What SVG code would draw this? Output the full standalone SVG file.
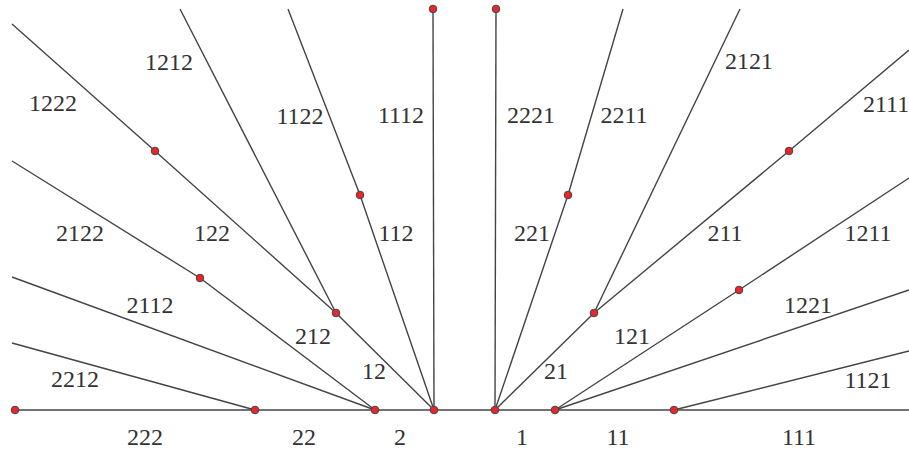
<svg xmlns="http://www.w3.org/2000/svg" width="909" height="453" viewBox="0 0 909 453">
<style>
.e{fill:none;stroke:#444;stroke-width:1.4;stroke-linejoin:round}
.n{fill:#e8262c;stroke:#444;stroke-width:1}
.t{font-family:'Liberation Serif','Times New Roman',Times,serif;font-size:24px;fill:#333;text-anchor:middle}
</style>
<rect width="909" height="453" fill="#fff"/>
<g id="connectors">
<polyline class="e" points="15,410 909,410"/>
<polyline class="e" points="433,9 434,410"/>
<polyline class="e" points="288,9 360,195 434,410"/>
<polyline class="e" points="180,9 336,313"/>
<polyline class="e" points="12,24 155,151 336,313 434,410"/>
<polyline class="e" points="12,161 200,278 375,410"/>
<polyline class="e" points="12,277 375,410"/>
<polyline class="e" points="12,343 255,410"/>
<polyline class="e" points="496,9 495,410"/>
<polyline class="e" points="623,9 568,195 495,410"/>
<polyline class="e" points="740,9 594,313"/>
<polyline class="e" points="909,50 789,151 594,313 495,410"/>
<polyline class="e" points="909,178 739,290 555,410"/>
<polyline class="e" points="909,290 555,410"/>
<polyline class="e" points="909,351 674,410"/>
</g>
<g id="nodes">
<circle id="n1" class="n" cx="15" cy="410" r="3.8"/>
<circle id="n2" class="n" cx="255" cy="410" r="3.8"/>
<circle id="n3" class="n" cx="375" cy="410" r="3.8"/>
<circle id="n4" class="n" cx="434" cy="410" r="3.8"/>
<circle id="n5" class="n" cx="495" cy="410" r="3.8"/>
<circle id="n6" class="n" cx="555" cy="410" r="3.8"/>
<circle id="n7" class="n" cx="674" cy="410" r="3.8"/>
<circle id="n8" class="n" cx="433" cy="9" r="3.8"/>
<circle id="n9" class="n" cx="496" cy="9" r="3.8"/>
<circle id="n10" class="n" cx="155" cy="151" r="3.8"/>
<circle id="n11" class="n" cx="360" cy="195" r="3.8"/>
<circle id="n12" class="n" cx="336" cy="313" r="3.8"/>
<circle id="n13" class="n" cx="200" cy="278" r="3.8"/>
<circle id="n14" class="n" cx="568" cy="195" r="3.8"/>
<circle id="n15" class="n" cx="789" cy="151" r="3.8"/>
<circle id="n16" class="n" cx="594" cy="313" r="3.8"/>
<circle id="n17" class="n" cx="739" cy="290" r="3.8"/>
</g>
<g id="labels" class="t" font-family="Liberation Serif, serif">
<text x="169" y="70">1212</text>
<text x="53" y="111">1222</text>
<text x="300" y="124">1122</text>
<text x="401" y="123">1112</text>
<text x="80" y="241">2122</text>
<text x="212" y="241">122</text>
<text x="396" y="241">112</text>
<text x="150" y="313">2112</text>
<text x="313" y="344">212</text>
<text x="374" y="379">12</text>
<text x="75" y="387">2212</text>
<text x="145" y="445">222</text>
<text x="304" y="445">22</text>
<text x="400" y="445">2</text>
<text x="749" y="69">2121</text>
<text x="531" y="123">2221</text>
<text x="624" y="123">2211</text>
<text x="863" y="112" text-anchor="start" style="text-anchor:start">2111</text>
<text x="532" y="241">221</text>
<text x="725" y="241">211</text>
<text x="868" y="241">1211</text>
<text x="808" y="313">1221</text>
<text x="632" y="344">121</text>
<text x="556" y="379">21</text>
<text x="868" y="388">1121</text>
<text x="522" y="445">1</text>
<text x="618" y="445">11</text>
<text x="799" y="445">111</text>
</g>
</svg>
